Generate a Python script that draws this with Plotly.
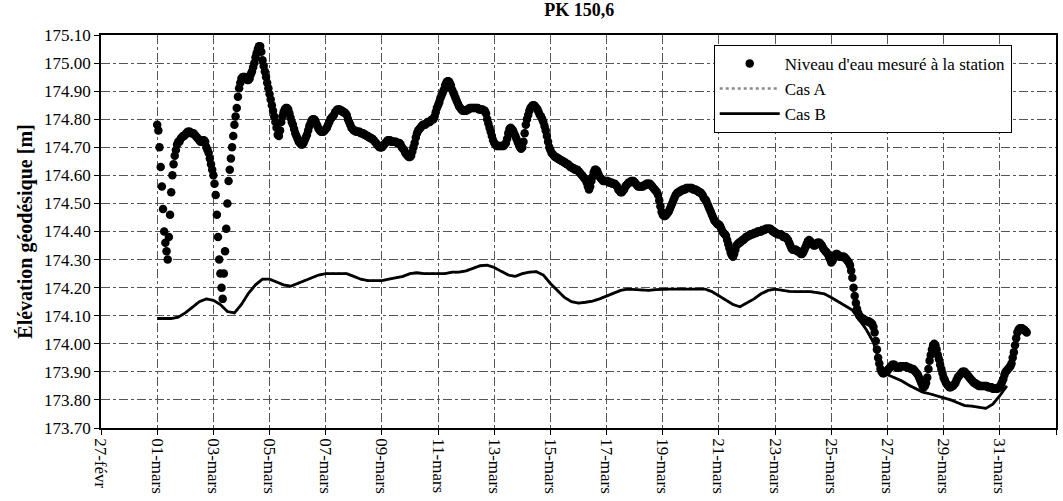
import pandas as pd
import plotly.graph_objects as go

# Measured water level at the station, hourly from 01-mars 00:00 (one row per day)
niveau_mesure = [
    174.78, 174.76, 174.70, 174.63, 174.56, 174.48, 174.40, 174.36, 174.33, 174.30, 174.38, 174.46, 174.54, 174.60, 174.64, 174.67, 174.69, 174.71, 174.72, 174.72, 174.73, 174.735, 174.74, 174.74,
    174.745, 174.75, 174.755, 174.755, 174.755, 174.75, 174.75, 174.75, 174.745, 174.74, 174.735, 174.73, 174.725, 174.72, 174.72, 174.725, 174.725, 174.72, 174.70, 174.69, 174.68, 174.66, 174.64, 174.62,
    174.60, 174.57, 174.53, 174.46, 174.38, 174.30, 174.25, 174.20, 174.16, 174.25, 174.33, 174.41, 174.50, 174.58, 174.62, 174.66, 174.70, 174.74, 174.78, 174.81, 174.84, 174.88, 174.91, 174.93,
    174.945, 174.95, 174.95, 174.95, 174.945, 174.94, 174.94, 174.945, 174.96, 174.97, 174.985, 175.00, 175.02, 175.035, 175.05, 175.06, 175.06, 175.04, 175.01, 174.99, 174.97, 174.95, 174.93, 174.91,
    174.89, 174.87, 174.85, 174.83, 174.81, 174.79, 174.77, 174.745, 174.74, 174.76, 174.79, 174.81, 174.825, 174.835, 174.84, 174.84, 174.835, 174.82, 174.805, 174.79, 174.78, 174.765, 174.75, 174.74,
    174.73, 174.72, 174.715, 174.71, 174.71, 174.715, 174.725, 174.735, 174.745, 174.76, 174.775, 174.785, 174.795, 174.80, 174.80, 174.795, 174.785, 174.775, 174.765, 174.76, 174.755, 174.755, 174.755, 174.76,
    174.765, 174.77, 174.78, 174.79, 174.80, 174.805, 174.81, 174.815, 174.825, 174.83, 174.835, 174.835, 174.835, 174.83, 174.83, 174.825, 174.825, 174.82, 174.815, 174.80, 174.79, 174.78, 174.77, 174.765,
    174.76, 174.76, 174.755, 174.755, 174.755, 174.755, 174.75, 174.75, 174.75, 174.745, 174.745, 174.74, 174.74, 174.735, 174.735, 174.73, 174.73, 174.725, 174.72, 174.715, 174.71, 174.705, 174.70, 174.70,
    174.70, 174.705, 174.71, 174.715, 174.72, 174.725, 174.725, 174.725, 174.72, 174.72, 174.72, 174.72, 174.72, 174.715, 174.715, 174.715, 174.71, 174.70, 174.695, 174.69, 174.68, 174.675, 174.67, 174.665,
    174.665, 174.67, 174.685, 174.70, 174.715, 174.735, 174.75, 174.76, 174.765, 174.77, 174.775, 174.78, 174.78, 174.78, 174.785, 174.79, 174.79, 174.79, 174.795, 174.80, 174.80, 174.81, 174.825, 174.84,
    174.85, 174.86, 174.875, 174.885, 174.895, 174.905, 174.92, 174.93, 174.935, 174.935, 174.93, 174.92, 174.905, 174.895, 174.885, 174.875, 174.865, 174.855, 174.845, 174.84, 174.835, 174.83, 174.83, 174.83,
    174.83, 174.835, 174.835, 174.84, 174.84, 174.84, 174.84, 174.84, 174.84, 174.84, 174.84, 174.835, 174.835, 174.835, 174.835, 174.83, 174.83, 174.82, 174.80, 174.785, 174.77, 174.755, 174.74, 174.725,
    174.715, 174.71, 174.705, 174.705, 174.705, 174.705, 174.705, 174.705, 174.705, 174.71, 174.715, 174.73, 174.75, 174.765, 174.77, 174.765, 174.76, 174.75, 174.74, 174.73, 174.72, 174.71, 174.70, 174.695,
    174.70, 174.72, 174.75, 174.78, 174.80, 174.815, 174.83, 174.84, 174.845, 174.85, 174.85, 174.845, 174.84, 174.835, 174.825, 174.815, 174.81, 174.80, 174.79, 174.775, 174.76, 174.74, 174.72, 174.70,
    174.69, 174.68, 174.675, 174.67, 174.665, 174.665, 174.66, 174.66, 174.655, 174.655, 174.65, 174.65, 174.645, 174.645, 174.64, 174.64, 174.635, 174.63, 174.63, 174.625, 174.625, 174.62, 174.62, 174.62,
    174.615, 174.61, 174.605, 174.60, 174.595, 174.59, 174.585, 174.575, 174.56, 174.55, 174.56, 174.58, 174.595, 174.61, 174.62, 174.62, 174.615, 174.605, 174.595, 174.59, 174.585, 174.58, 174.58, 174.58,
    174.58, 174.58, 174.575, 174.575, 174.575, 174.57, 174.57, 174.57, 174.565, 174.56, 174.55, 174.545, 174.54, 174.54, 174.545, 174.55, 174.56, 174.565, 174.57, 174.575, 174.575, 174.58, 174.58, 174.58,
    174.575, 174.57, 174.565, 174.56, 174.56, 174.56, 174.56, 174.56, 174.565, 174.565, 174.57, 174.57, 174.57, 174.57, 174.565, 174.56, 174.555, 174.55, 174.545, 174.54, 174.53, 174.51, 174.49, 174.47,
    174.46, 174.455, 174.455, 174.46, 174.465, 174.47, 174.48, 174.49, 174.50, 174.51, 174.52, 174.53, 174.535, 174.54, 174.54, 174.545, 174.545, 174.55, 174.55, 174.55, 174.555, 174.555, 174.555, 174.555,
    174.555, 174.555, 174.55, 174.55, 174.55, 174.545, 174.545, 174.54, 174.54, 174.535, 174.53, 174.52, 174.515, 174.51, 174.50, 174.49, 174.48, 174.47, 174.46, 174.45, 174.44, 174.435, 174.43, 174.425,
    174.425, 174.42, 174.41, 174.40, 174.395, 174.39, 174.385, 174.37, 174.355, 174.34, 174.325, 174.315, 174.31, 174.32, 174.335, 174.35, 174.355, 174.36, 174.36, 174.365, 174.37, 174.37, 174.375, 174.38,
    174.38, 174.385, 174.385, 174.39, 174.39, 174.39, 174.395, 174.395, 174.395, 174.40, 174.40, 174.40, 174.40, 174.405, 174.405, 174.405, 174.41, 174.41, 174.41, 174.41, 174.41, 174.405, 174.40, 174.40,
    174.395, 174.395, 174.39, 174.39, 174.39, 174.39, 174.385, 174.38, 174.38, 174.38, 174.375, 174.37, 174.36, 174.35, 174.34, 174.335, 174.335, 174.335, 174.335, 174.33, 174.33, 174.325, 174.32, 174.32,
    174.325, 174.335, 174.345, 174.355, 174.365, 174.37, 174.365, 174.36, 174.355, 174.35, 174.35, 174.355, 174.36, 174.36, 174.36, 174.355, 174.35, 174.34, 174.335, 174.33, 174.325, 174.32, 174.31, 174.30,
    174.29, 174.295, 174.305, 174.315, 174.32, 174.32, 174.315, 174.31, 174.31, 174.31, 174.31, 174.31, 174.305, 174.30, 174.295, 174.29, 174.28, 174.26, 174.235, 174.20, 174.17, 174.145, 174.125, 174.11,
    174.10, 174.095, 174.09, 174.09, 174.085, 174.085, 174.08, 174.08, 174.08, 174.075, 174.075, 174.07, 174.06, 174.04, 174.01, 173.98, 173.95, 173.93, 173.91, 173.90, 173.895, 173.895, 173.90, 173.90,
    173.905, 173.91, 173.915, 173.92, 173.925, 173.925, 173.925, 173.92, 173.915, 173.915, 173.915, 173.92, 173.92, 173.92, 173.92, 173.92, 173.92, 173.915, 173.915, 173.915, 173.91, 173.91, 173.91, 173.905,
    173.90, 173.895, 173.89, 173.88, 173.87, 173.86, 173.85, 173.845, 173.85, 173.86, 173.88, 173.91, 173.94, 173.96, 173.98, 173.995, 174.00, 173.995, 173.98, 173.96, 173.945, 173.925, 173.91, 173.895,
    173.88, 173.87, 173.86, 173.855, 173.85, 173.845, 173.845, 173.85, 173.85, 173.855, 173.86, 173.87, 173.88, 173.885, 173.89, 173.895, 173.90, 173.90, 173.90, 173.895, 173.89, 173.885, 173.88, 173.875,
    173.87, 173.865, 173.86, 173.86, 173.855, 173.855, 173.85, 173.85, 173.85, 173.85, 173.85, 173.85, 173.85, 173.85, 173.845, 173.845, 173.845, 173.845, 173.84, 173.84, 173.84, 173.84, 173.84, 173.845,
    173.845, 173.855, 173.865, 173.875, 173.89, 173.90, 173.905, 173.91, 173.915, 173.92, 173.93, 173.95, 173.97, 173.995, 174.02, 174.04, 174.05, 174.055, 174.055, 174.055, 174.05, 174.05, 174.045, 174.04,
]

# Simulated levels, every 6 hours from 01-mars 00:00
niveau_cas_b = [
    174.09, 174.09, 174.09, 174.095, 174.11, 174.13, 174.15, 174.16,
    174.155, 174.14, 174.115, 174.11, 174.14, 174.18, 174.21, 174.23,
    174.23, 174.22, 174.21, 174.205, 174.215, 174.225, 174.235, 174.245,
    174.25, 174.25, 174.25, 174.25, 174.24, 174.23, 174.225, 174.225,
    174.225, 174.23, 174.235, 174.24, 174.25, 174.253, 174.25, 174.25,
    174.25, 174.25, 174.255, 174.255, 174.26, 174.27, 174.278, 174.28,
    174.272, 174.258, 174.245, 174.24, 174.25, 174.255, 174.257, 174.245,
    174.215, 174.19, 174.165, 174.15, 174.145, 174.148, 174.152, 174.16,
    174.17, 174.18, 174.19, 174.195, 174.193, 174.19, 174.19, 174.193,
    174.195, 174.195, 174.195, 174.195, 174.195, 174.195, 174.195, 174.186,
    174.17, 174.155, 174.14, 174.132, 174.145, 174.16, 174.178, 174.19,
    174.195, 174.19, 174.187, 174.186, 174.186, 174.186, 174.182, 174.178,
    174.165, 174.15, 174.135, 174.12, 174.085, 174.05, 174.005, 173.925,
    173.89, 173.879, 173.868, 173.853, 173.84, 173.828, 173.822, 173.815,
    173.808, 173.80, 173.79, 173.78, 173.778, 173.775, 173.77, 173.785,
    173.815, 173.85,
]
niveau_cas_a = [
    174.09, 174.09, 174.09, 174.095, 174.11, 174.13, 174.15, 174.16,
    174.155, 174.14, 174.115, 174.11, 174.14, 174.18, 174.21, 174.23,
    174.23, 174.22, 174.21, 174.205, 174.215, 174.225, 174.235, 174.245,
    174.25, 174.25, 174.25, 174.25, 174.24, 174.23, 174.225, 174.225,
    174.225, 174.23, 174.235, 174.24, 174.25, 174.253, 174.25, 174.25,
    174.25, 174.25, 174.255, 174.255, 174.26, 174.27, 174.278, 174.28,
    174.272, 174.258, 174.245, 174.24, 174.25, 174.255, 174.257, 174.245,
    174.215, 174.19, 174.165, 174.15, 174.145, 174.148, 174.152, 174.16,
    174.17, 174.18, 174.19, 174.195, 174.193, 174.19, 174.19, 174.193,
    174.195, 174.195, 174.195, 174.195, 174.195, 174.195, 174.195, 174.186,
    174.17, 174.155, 174.14, 174.132, 174.145, 174.16, 174.178, 174.19,
    174.195, 174.19, 174.187, 174.186, 174.186, 174.186, 174.182, 174.178,
    174.165, 174.15, 174.135, 174.12, 174.085, 174.05, 174.005, 173.925,
    173.89, 173.879, 173.868, 173.853, 173.84, 173.828, 173.822, 173.815,
    173.808, 173.80, 173.79, 173.78, 173.778, 173.775, 173.77, 173.785,
    173.815, 173.85,
]

# Date axis ticks (every two days)
dates_ticks = pd.date_range("2009-02-27", "2009-04-02", freq="2D")
etiquettes_ticks = [
    "27-févr", "01-mars", "03-mars", "05-mars", "07-mars", "09-mars",
    "11-mars", "13-mars", "15-mars", "17-mars", "19-mars", "21-mars",
    "23-mars", "25-mars", "27-mars", "29-mars", "31-mars", "02-avr",
]

t_mesure = pd.date_range("2009-03-01 00:00", periods=len(niveau_mesure), freq="h")
t_modele = pd.date_range("2009-03-01 00:00", periods=len(niveau_cas_b), freq="6h")

police = "Liberation Serif, Times New Roman, serif"

fig = go.Figure()
fig.add_trace(go.Scatter(
    x=t_modele, y=niveau_cas_a, mode="lines", name="Cas A",
    line=dict(color="#8a8a8a", width=2.5, dash="dot"), legendrank=2,
))
fig.add_trace(go.Scatter(
    x=t_modele, y=niveau_cas_b, mode="lines", name="Cas B",
    line=dict(color="black", width=2.8), legendrank=3,
))
fig.add_trace(go.Scatter(
    x=t_mesure, y=niveau_mesure, mode="markers",
    name="Niveau d'eau mesuré à la station",
    marker=dict(color="black", size=8.5), legendrank=1,
))

grille = dict(showgrid=True, gridcolor="#555555", gridwidth=1, griddash="dashdot")

fig.update_layout(
    width=1063, height=501,
    margin=dict(l=101, r=5, t=35, b=73),
    paper_bgcolor="white", plot_bgcolor="white",
    font=dict(family=police, size=17, color="black"),
    title=dict(text="<b>PK 150,6</b>", x=0.545, xanchor="center",
               y=0.98, yanchor="middle", font=dict(size=18)),
    showlegend=True,
    legend=dict(x=0.6416, y=0.975, xanchor="left", yanchor="top",
                bgcolor="white", bordercolor="black", borderwidth=1,
                font=dict(size=17), itemwidth=60, tracegroupgap=0),
    xaxis=dict(
        type="date", range=["2009-02-27", "2009-04-02"],
        tickmode="array", tickvals=dates_ticks, ticktext=etiquettes_ticks,
        tickangle=90, ticks="outside", ticklen=5, tickcolor="black",
        tickfont=dict(size=17),
        showline=True, linecolor="black", linewidth=1.5, mirror=True,
        zeroline=False, **grille,
    ),
    yaxis=dict(
        range=[173.70, 175.10], dtick=0.1, tick0=173.70, tickformat=".2f",
        ticks="outside", ticklen=5, tickcolor="black", tickfont=dict(size=17),
        showline=True, linecolor="black", linewidth=1.5, mirror=True,
        zeroline=False,
        title=dict(text="<b>Élévation géodésique [m]</b>", font=dict(size=20), standoff=6),
        **grille,
    ),
)

fig.write_html("out.html")
